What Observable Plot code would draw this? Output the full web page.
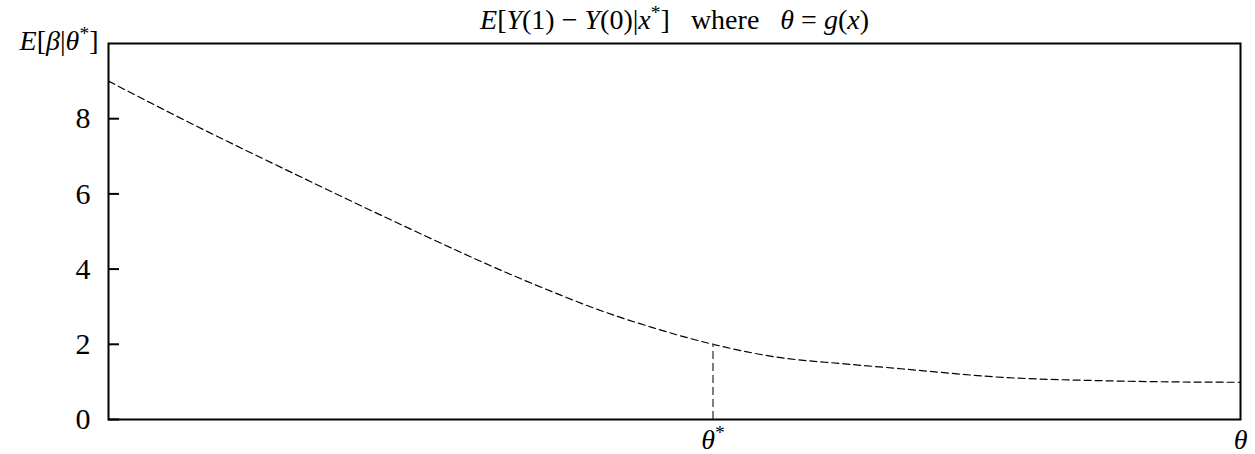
<!DOCTYPE html>
<html><head><meta charset="utf-8">
<script src="https://cdn.jsdelivr.net/npm/d3@7"></script>
<script src="https://cdn.jsdelivr.net/npm/@observablehq/plot@0.6"></script>
<style>body{margin:0;background:#fff} svg{display:block} text{white-space:pre}</style>
</head><body><div id="chart"></div>
<script>
// ---- data ----
const theta  = [0, 0.06, 0.17, 0.28, 0.33, 0.40, 0.43, 0.48, 0.534, 0.59, 0.65, 0.70, 0.79, 0.88, 0.94, 1.0];
const effect = [9.0, 8.07, 6.45, 4.88, 4.19, 3.30, 2.95, 2.45, 2.0, 1.66, 1.48, 1.35, 1.12, 1.03, 1.0, 0.99];
const thetaStar = 0.534;
const effectStar = 2;
const yTicks = [0, 2, 4, 6, 8];
// text pieces: [string, style] where "i" = italic, "s" = superscript
const titleParts = [["E","i"],["[",""],["Y","i"],["(1) − ",""],["Y","i"],["(0)|",""],["x","i"],["*","s"],["]   where   ",""],["θ","i"],[" = ",""],["g","i"],["(",""],["x","i"],[")",""]];
const yLabelParts = [["E","i"],["[",""],["β","i"],["|",""],["θ","i"],["*","s"],["]",""]];
const starLabelParts = [["θ","i"],["*","s"]];
const endLabelParts = [["θ","i"]];

const join = parts => parts.map(p => p[0]).join("");
const rows = theta.map((t, i) => ({theta: t, effect: effect[i]}));

const plot = Plot.plot({
  width: 1255, height: 454,
  marginLeft: 108, marginRight: 15, marginTop: 43, marginBottom: 35,
  style: {fontFamily: "'Liberation Serif', serif", background: "white", color: "black", overflow: "visible"},
  x: {domain: [0, 1], axis: null},
  y: {domain: [0, 10], axis: null},
  marks: [
    Plot.line(rows, {x: "theta", y: "effect", stroke: "black", strokeWidth: 1.2, strokeDasharray: "7,4", curve: "monotone-x"}),
    Plot.ruleX([{t: thetaStar, v: effectStar}], {x: "t", y1: 0, y2: "v", stroke: "#555", strokeWidth: 1.5, strokeDasharray: "8,4"}),
    Plot.axisY(yTicks, {tickSize: 0, tickPadding: 18, fontSize: 30, label: null}),
    Plot.axisY(yTicks, {tickSize: -11, strokeWidth: 2, tickFormat: () => "", label: null}),
    Plot.frame({stroke: "black", strokeWidth: 2}),
    Plot.text([join(titleParts)], {text: d => d, frameAnchor: "top", dy: -15, lineAnchor: "bottom", fontSize: 28}),
    Plot.text([join(yLabelParts)], {text: d => d, frameAnchor: "top-left", dx: -10, dy: 6, lineAnchor: "bottom", textAnchor: "end", fontSize: 28}),
    Plot.text([thetaStar], {x: d => d, text: () => join(starLabelParts), frameAnchor: "bottom", dy: 29, lineAnchor: "bottom", fontSize: 28}),
    Plot.text([1], {x: d => d, text: () => join(endLabelParts), frameAnchor: "bottom", dy: 29, lineAnchor: "bottom", fontSize: 28})
  ]
});

function richText(root, parts) {
  const plain = join(parts);
  root.querySelectorAll("text").forEach(t => {
    if (t.textContent !== plain) return;
    while (t.firstChild) t.removeChild(t.firstChild);
    let raised = false;
    for (const [s, st] of parts) {
      const sp = document.createElementNS("http://www.w3.org/2000/svg", "tspan");
      sp.textContent = s;
      if (st === "i") sp.setAttribute("font-style", "italic");
      if (st === "s") { sp.setAttribute("font-size", "70%"); sp.setAttribute("dy", "-0.5em"); raised = true; }
      else if (raised) { sp.setAttribute("dy", "0.35em"); raised = false; }
      t.appendChild(sp);
    }
  });
}
[titleParts, yLabelParts, starLabelParts, endLabelParts].forEach(p => richText(plot, p));
document.getElementById("chart").appendChild(plot);
</script>
</body></html>
